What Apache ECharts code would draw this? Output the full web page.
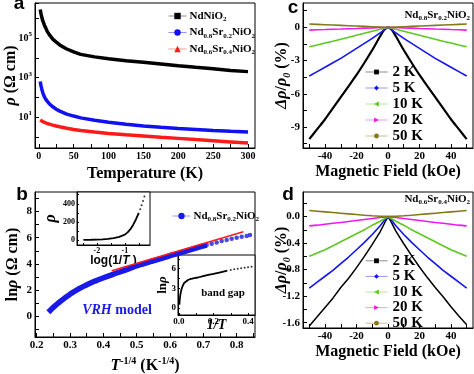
<!DOCTYPE html>
<html><head><meta charset="utf-8">
<script src="https://cdn.jsdelivr.net/npm/echarts@6/dist/echarts.min.js"></script>
<style>html,body{margin:0;padding:0;background:#fff}#c{width:474px;height:374px}</style>
</head><body><div id="c"></div>
<script>
// ---------- panel a : rho(T) ----------
const tempK = [2,3,4,5,6,8,10,12,15,20,25,30,40,50,60,80,100,125,150,175,200,225,250,275,300];
const rhoNdNiO2 = [2.8e6,1.8e6,1.26e6,8.9e5,7.1e5,4.5e5,3.2e5,2.2e5,1.5e5,8.9e4,6.3e4,4.5e4,2.8e4,2.0e4,1.5e4,1.12e4,8.9e3,7.2e3,6.0e3,4.9e3,4.0e3,3.3e3,2.8e3,2.3e3,2.0e3];
const rhoSr02 = [630,400,280,210,160,105,79,63,47,33,25,20,14,11.2,9.1,6.8,5.4,4.3,3.5,3.0,2.6,2.35,2.1,1.9,1.74];
const rhoSr04 = [7.1,6.8,6.5,6.0,5.8,5.4,5.0,4.7,4.4,3.9,3.5,3.2,2.7,2.35,2.1,1.74,1.48,1.26,1.1,0.95,0.83,0.72,0.63,0.55,0.48];
const aXLabels = [0,50,100,150,200,250,300];
const aXTicks = [0,25,50,75,100,125,150,175,200,225,250,275,300];

// ---------- panel b : ln rho vs T^-1/4 ----------
const vrhX = [0.235,0.245,0.255,0.265,0.275,0.285,0.295,0.305,0.315,0.325,0.335,0.345,0.355,0.365,0.375,0.385,0.395,0.41,0.425,0.44,0.455,0.47,0.485,0.50,0.515,0.53,0.545,0.56,0.575,0.59,0.605,0.62,0.635,0.65,0.665,0.68,0.695,0.71,0.725,0.74,0.755,0.77,0.785,0.80,0.815,0.83,0.84];
const vrhY = [0.3,0.55,0.78,1.0,1.2,1.4,1.58,1.76,1.92,2.07,2.2,2.33,2.45,2.57,2.68,2.78,2.88,3.02,3.16,3.3,3.43,3.56,3.7,3.85,3.97,4.08,4.2,4.31,4.42,4.54,4.66,4.77,4.88,4.99,5.1,5.22,5.33,5.44,5.54,5.64,5.74,5.83,5.92,6.0,6.07,6.14,6.2];
const vrhDenseCount = 38;
const fitX = [0.425,0.82];
const fitY = [3.47,6.45];
const bXLabels = [0.2,0.3,0.4,0.5,0.6,0.7,0.8];
const bXTicks = [0.2,0.25,0.3,0.35,0.4,0.45,0.5,0.55,0.6,0.65,0.7,0.75,0.8,0.85];
const bYLabels = [0,2,4,6,8];
const bYTicks = [-1,0,1,2,3,4,5,6,7,8,9];
// inset 1 : rho vs log(1/T)
const in1X = [-2.48,-2.2,-2.0,-1.8,-1.6,-1.4,-1.2,-1.0,-0.9,-0.8,-0.7,-0.6,-0.5,-0.45,-0.4,-0.35,-0.3];
const in1Y = [2,4,6,9,14,22,36,60,85,120,170,230,300,340,385,430,480];
const in1DenseCount = 13;
const in1XLabels = [-2,-1];
const in1YLabels = [0,200,400];
// inset 2 : ln rho vs 1/T
const in2X = [0.003,0.005,0.008,0.012,0.017,0.023,0.03,0.04,0.055,0.07,0.09,0.11,0.14,0.17,0.2,0.24,0.28,0.3,0.32,0.34,0.36,0.38,0.4,0.42];
const in2Y = [0.5,1.2,1.9,2.5,3.0,3.4,3.8,4.05,4.3,4.45,4.55,4.65,4.85,5.05,5.2,5.45,5.7,5.8,5.9,6.0,6.08,6.15,6.22,6.3];
const in2DenseCount = 17;
const in2XLabels = [0.0,0.2,0.4];
const in2YLabels = [0,3,6];

// ---------- panels c, d : magnetoresistance ----------
const fieldKOe = [-50,-45,-40,-35,-30,-25,-20,-15,-10,-5,-2,0,2,5,10,15,20,25,30,35,40,45,50];
const c2K  = [-10.1,-9.2,-8.3,-7.3,-6.3,-5.3,-4.3,-3.2,-2.05,-0.8,-0.15,0,-0.15,-0.8,-2.05,-3.2,-4.3,-5.3,-6.3,-7.3,-8.3,-9.2,-10.1];
const c5K  = [-4.4,-4.0,-3.6,-3.2,-2.8,-2.35,-1.9,-1.45,-1.0,-0.5,-0.2,0,-0.2,-0.5,-1.0,-1.45,-1.9,-2.35,-2.8,-3.2,-3.6,-4.0,-4.4];
const c10K = [-1.75,-1.6,-1.42,-1.25,-1.07,-0.9,-0.72,-0.54,-0.36,-0.18,-0.07,0,-0.07,-0.18,-0.36,-0.54,-0.72,-0.9,-1.07,-1.25,-1.42,-1.6,-1.75];
const c20K = [-0.25,-0.22,-0.2,-0.17,-0.15,-0.12,-0.1,-0.07,-0.05,-0.02,-0.01,0,-0.01,-0.02,-0.05,-0.07,-0.1,-0.12,-0.15,-0.17,-0.2,-0.22,-0.25];
const c50K = [0.3,0.27,0.24,0.21,0.18,0.15,0.12,0.09,0.06,0.03,0.01,0,0.01,0.03,0.06,0.09,0.12,0.15,0.18,0.21,0.24,0.27,0.3];
const d2K  = [-1.65,-1.51,-1.37,-1.23,-1.07,-0.93,-0.77,-0.6,-0.42,-0.23,-0.09,0,-0.08,-0.22,-0.41,-0.59,-0.76,-0.92,-1.07,-1.21,-1.36,-1.5,-1.63];
const d5K  = [-1.08,-0.99,-0.9,-0.81,-0.71,-0.61,-0.5,-0.39,-0.27,-0.14,-0.05,0,-0.05,-0.14,-0.27,-0.39,-0.5,-0.61,-0.71,-0.81,-0.9,-0.99,-1.08];
const d10K = [-0.6,-0.55,-0.5,-0.44,-0.38,-0.32,-0.26,-0.2,-0.13,-0.07,-0.03,0,-0.03,-0.07,-0.13,-0.2,-0.26,-0.32,-0.38,-0.44,-0.5,-0.55,-0.6];
const d20K = [-0.14,-0.13,-0.115,-0.1,-0.09,-0.075,-0.06,-0.045,-0.03,-0.015,-0.006,0,-0.006,-0.015,-0.03,-0.045,-0.06,-0.075,-0.09,-0.1,-0.115,-0.13,-0.14];
const d50K = [0.09,0.08,0.07,0.06,0.05,0.04,0.03,0.02,0.012,0.005,0.002,0,0.002,0.005,0.012,0.02,0.03,0.04,0.05,0.06,0.07,0.08,0.09];
const tempNames = ['2 K','5 K','10 K','20 K','50 K'];
const mrXLabels = [-40,-20,0,20,40];
const mrXTicks = [-50,-40,-30,-20,-10,0,10,20,30,40,50];
const cYLabels = [-9,-6,-3,0];
const cYTicks = [-10.5,-9,-7.5,-6,-4.5,-3,-1.5,0,1.5];
const dYLabels = [-1.6,-1.2,-0.8,-0.4,0.0];
const dYTicks = [-1.6,-1.4,-1.2,-1.0,-0.8,-0.6,-0.4,-0.2,0.0,0.2];

// ---------- helpers ----------
const SERIF = '"Liberation Serif","Times New Roman",serif';
const SANS = '"Liberation Sans",Arial,sans-serif';
const zip = (xs, ys) => xs.map((x, i) => [x, ys[i]]);
const subStyle = (fs) => ({fontSize: fs, fontFamily: SERIF, fontWeight: 'bold', color: '#000', verticalAlign: 'bottom'});
const supStyle = (fs) => ({fontSize: fs, fontFamily: SERIF, fontWeight: 'bold', color: '#000', verticalAlign: 'top'});

function axis(o) {
  const a = {
    type: o.type || 'value', gridIndex: o.grid, min: o.min, max: o.max,
    axisLine: {show: true, onZero: false, lineStyle: {color: '#000', width: 1}},
    axisTick: {show: true, inside: true, length: o.tickLen || 4, lineStyle: {color: '#000', width: 1}},
    splitLine: {show: false},
    axisLabel: {color: '#000', fontFamily: SERIF, fontWeight: 'bold', fontSize: o.fs || 11, margin: o.margin || 3},
    nameMoveOverlap: false
  };
  if (o.labels) a.axisLabel.customValues = o.labels;
  if (o.ticks) a.axisTick.customValues = o.ticks;
  if (o.fmt) a.axisLabel.formatter = o.fmt;
  if (o.rich) a.axisLabel.rich = o.rich;
  if (o.lineHeight) a.axisLabel.lineHeight = o.lineHeight;
  if (o.logBase) a.logBase = o.logBase;
  if (o.name) {
    a.name = o.name; a.nameLocation = 'middle'; a.nameGap = o.nameGap;
    if (o.nameRotate !== undefined) a.nameRotate = o.nameRotate;
    a.nameTextStyle = Object.assign({color: '#000', fontFamily: SERIF, fontWeight: 'bold', fontSize: 16}, o.nameStyle || {});
  }
  return a;
}

const nameRich = {
  i: {fontStyle: 'italic', fontWeight: 'bold', fontFamily: SERIF, fontSize: 16, color: '#000'},
  si: {fontStyle: 'italic', fontWeight: 'bold', fontFamily: SERIF, fontSize: 10, color: '#000', verticalAlign: 'bottom'},
  sup: supStyle(10)
};

const grids = [
  {left: 35, top: 3, width: 220, height: 145},   // a
  {left: 35, top: 192, width: 220, height: 145}, // b
  {left: 303, top: 3, width: 170, height: 145},  // c
  {left: 303, top: 192, width: 170, height: 136},// d
  {left: 77, top: 192, width: 73, height: 53},   // b inset 1
  {left: 178, top: 255, width: 77, height: 60}   // b inset 2
].map(g => Object.assign({show: true, borderColor: '#000', borderWidth: 1, backgroundColor: 'transparent', outerBoundsMode: 'none', containLabel: false}, g));
grids[4].backgroundColor = '#fff';
grids[5].backgroundColor = '#fff';

const fmt1 = v => Number(v).toFixed(1);
const logFmt = v => {
  const e = Math.log10(v), r = Math.round(e);
  if (Math.abs(e - r) > 1e-6 || Math.abs(r % 2) !== 1) return '';
  return '10{sup|' + r + '}';
};

const xAxes = [
  axis({grid: 0, min: -5.5, max: 310, labels: aXLabels, ticks: aXTicks, fs: 10, name: 'Temperature (K)', nameGap: 18}),
  axis({grid: 1, min: 0.195, max: 0.855, labels: bXLabels, ticks: bXTicks, fmt: fmt1, name: '{i|T}{sup|-1/4} (K{sup|-1/4})', nameGap: 19, nameStyle: {rich: nameRich, lineHeight: 20}}),
  axis({grid: 2, min: -54, max: 54, labels: mrXLabels, ticks: mrXTicks, name: 'Magnetic Field (kOe)', nameGap: 16}),
  axis({grid: 3, min: -54, max: 54, labels: mrXLabels, ticks: mrXTicks, name: 'Magnetic Field (kOe)', nameGap: 16}),
  axis({grid: 4, min: -2.71, max: -0.1, labels: in1XLabels, ticks: [-2.5,-2,-1.5,-1,-0.5], fs: 8, margin: 2, tickLen: 2,
        name: 'log(1/{i|T} )', nameGap: 10, nameStyle: {fontFamily: SANS, fontSize: 12, rich: {i: {fontFamily: SANS, fontStyle: 'italic', fontWeight: 'bold', fontSize: 12, color: '#000'}}}}),
  axis({grid: 5, min: -0.005, max: 0.44, labels: in2XLabels, ticks: [0,0.1,0.2,0.3,0.4], fmt: fmt1, fs: 9, margin: 2, tickLen: 2,
        name: '1/T', nameGap: 3, nameStyle: {fontStyle: 'italic', fontSize: 14}})
];
const yAxes = [
  axis({grid: 0, type: 'log', logBase: 10, min: 0.27, max: 6e6, fmt: logFmt, fs: 10, lineHeight: 14, rich: {sup: supStyle(7)},
        name: '{i|ρ} (Ω cm)', nameRotate: 90, nameGap: 16, nameStyle: {rich: nameRich}}),
  axis({grid: 1, min: -1.6, max: 9.5, labels: bYLabels, ticks: bYTicks,
        name: 'ln{i|ρ} (Ω cm)', nameRotate: 90, nameGap: 14, nameStyle: {rich: nameRich}}),
  axis({grid: 2, min: -10.9, max: 2.2, labels: cYLabels, ticks: cYTicks,
        name: '{i|Δρ}/{i|ρ}{si|0} (%)', nameRotate: 90, nameGap: 11, nameStyle: {rich: nameRich, lineHeight: 20}}),
  axis({grid: 3, min: -1.68, max: 0.37, labels: dYLabels, ticks: dYTicks, fmt: fmt1,
        name: '{i|Δρ}/{i|ρ}{si|0} (%)', nameRotate: 90, nameGap: 11, nameStyle: {rich: nameRich, lineHeight: 20}}),
  axis({grid: 4, min: -54, max: 530, labels: in1YLabels, ticks: [0,100,200,300,400,500], fs: 8, margin: 2, tickLen: 2,
        name: '{i|ρ}', nameRotate: 90, nameGap: 18, nameStyle: {rich: nameRich}}),
  axis({grid: 5, min: -1.1, max: 8.1, labels: in2YLabels, ticks: [0,1.5,3,4.5,6,7.5], fs: 9, margin: 2, tickLen: 2,
        name: 'ln{i|ρ}', nameRotate: 90, nameGap: 9, nameStyle: {fontSize: 13, rich: {i: {fontStyle: 'italic', fontWeight: 'bold', fontFamily: SERIF, fontSize: 13, color: '#000'}}}})
];

const lineS = (name, idx, data, color, w, symbol, extra) => Object.assign({
  type: 'line', name, xAxisIndex: idx, yAxisIndex: idx, data, showSymbol: false, symbol,
  lineStyle: {color, width: w}, itemStyle: {color}, animation: false, silent: true
}, extra || {});

const C = {k: '#000000', b: '#1414f0', g: '#5cc81e', m: '#f018f0', o: '#847818', r: '#ff1a1a'};
const mrColors = [C.k, C.b, C.g, C.m, C.o];
const mrSymbols = ['rect', 'diamond', 'triangle', 'triangle', 'circle'];
const mrRot = [0, 0, 90, -90, 0];
const cSets = [c2K, c5K, c10K, c20K, c50K];
const dSets = [d2K, d5K, d10K, d20K, d50K];

const series = [
  lineS('NdNiO2', 0, zip(tempK, rhoNdNiO2), C.k, 3.5, 'rect'),
  lineS('Nd0.8Sr0.2NiO2', 0, zip(tempK, rhoSr02), '#1010f0', 3.5, 'circle'),
  lineS('Nd0.6Sr0.4NiO2', 0, zip(tempK, rhoSr04), C.r, 3.5, 'triangle'),
  lineS('bNd', 1, zip(vrhX.slice(0, vrhDenseCount), vrhY.slice(0, vrhDenseCount)), '#1a1ae8', 5.5, 'circle'),
  {type: 'scatter', xAxisIndex: 1, yAxisIndex: 1, data: zip(vrhX.slice(vrhDenseCount - 1), vrhY.slice(vrhDenseCount - 1)), symbolSize: 4.5, itemStyle: {color: '#1a1ae8'}, animation: false, silent: true},
  lineS('fit', 1, zip(fitX, fitY), C.r, 1.5, 'none'),
  lineS('in1', 4, zip(in1X.slice(0, in1DenseCount), in1Y.slice(0, in1DenseCount)), C.k, 1.8, 'none'),
  {type: 'scatter', xAxisIndex: 4, yAxisIndex: 4, data: zip(in1X.slice(in1DenseCount), in1Y.slice(in1DenseCount)), symbolSize: 2, itemStyle: {color: '#000'}, animation: false, silent: true},
  lineS('in2', 5, zip(in2X.slice(0, in2DenseCount), in2Y.slice(0, in2DenseCount)), C.k, 1.8, 'none'),
  {type: 'scatter', xAxisIndex: 5, yAxisIndex: 5, data: zip(in2X.slice(in2DenseCount), in2Y.slice(in2DenseCount)), symbolSize: 2, itemStyle: {color: '#000'}, animation: false, silent: true}
];
tempNames.forEach((n, i) => {
  series.push(lineS(n, 2, zip(fieldKOe, cSets[i]), mrColors[i], i === 0 ? 2.2 : 1.6, mrSymbols[i], {symbolRotate: mrRot[i], smooth: i === 0 ? 0.3 : false}));
});
tempNames.forEach((n, i) => {
  series.push(lineS(n, 3, zip(fieldKOe, dSets[i]), mrColors[i], i === 0 ? 1.5 : 1.6, mrSymbols[i], {symbolRotate: mrRot[i]}));
});

const chemName = {
  'NdNiO2': 'NdNiO{s|2}',
  'Nd0.8Sr0.2NiO2': 'Nd{s|0.8}Sr{s|0.2}NiO{s|2}',
  'Nd0.6Sr0.4NiO2': 'Nd{s|0.6}Sr{s|0.4}NiO{s|2}',
  'bNd': 'Nd{s|0.8}Sr{s|0.2}NiO{s|2}'
};
const legendBase = (o) => Object.assign({
  orient: 'vertical', itemGap: 2, itemWidth: 18, itemHeight: 8, selectedMode: false,
  textStyle: {fontFamily: SERIF, fontWeight: 'bold', fontSize: 11, color: '#000', lineHeight: 14, rich: {s: subStyle(7)}, padding: [0, 0, 0, -2]},
  lineStyle: {width: 1, opacity: 0.45}, formatter: n => chemName[n] || n, inactiveColor: '#000'
}, o);

const legends = [
  legendBase({data: ['NdNiO2', 'Nd0.8Sr0.2NiO2', 'Nd0.6Sr0.4NiO2'], left: 163, top: 4, itemGap: 2.5}),
  legendBase({data: ['bNd'], left: 167, top: 204}),
  legendBase({data: tempNames, left: 360, top: 59, itemGap: 0, itemWidth: 22, itemHeight: 6,
    textStyle: {fontFamily: SERIF, fontWeight: 'bold', fontSize: 15, color: '#000', lineHeight: 16}, formatter: n => n}),
  legendBase({data: tempNames, left: 360, top: 248, itemGap: 0, itemWidth: 22, itemHeight: 6,
    textStyle: {fontFamily: SERIF, fontWeight: 'bold', fontSize: 15, color: '#000', lineHeight: 15.6}, formatter: n => n})
];

const txt = (x, y, text, font, fill, align, rich, lh) => ({
  type: 'text', x, y, silent: true, z: 100,
  style: {text, font, fill: fill || '#000', align: align || 'center', verticalAlign: 'middle', textAlign: align || 'center', textVerticalAlign: 'middle', rich, lineHeight: lh}
});
const gSub = {s: {fontSize: 7, fontFamily: SERIF, fontWeight: 'bold', fill: '#000', verticalAlign: 'bottom'}};

const graphics = [
  txt(19, 4, 'a', 'bold 19px ' + SANS),
  txt(22, 195, 'b', 'bold 19px ' + SANS),
  txt(293, 8, 'c', 'bold 19px ' + SANS),
  txt(288, 195, 'd', 'bold 19px ' + SANS),
  txt(470, 15, 'Nd{s|0.8}Sr{s|0.2}NiO{s|2}', 'bold 11px ' + SERIF, '#000', 'right', gSub, 14),
  txt(470, 199, 'Nd{s|0.6}Sr{s|0.4}NiO{s|2}', 'bold 11px ' + SERIF, '#000', 'right', gSub, 14),
  txt(117, 310, '{i|VRH} model', 'bold 14px ' + SERIF, '#1a1ae8', 'center',
      {i: {fontStyle: 'italic', fontWeight: 'bold', fontSize: 14, fontFamily: SERIF, fill: '#1a1ae8'}}, 16),
  txt(223, 293, 'band gap', 'bold 11px ' + SERIF)
];

const chart = echarts.init(document.getElementById('c'), null, {renderer: 'canvas'});
chart.setOption({
  backgroundColor: '#fff', animation: false,
  grid: grids, xAxis: xAxes, yAxis: yAxes, series, legend: legends, graphic: graphics
});
</script></body></html>
